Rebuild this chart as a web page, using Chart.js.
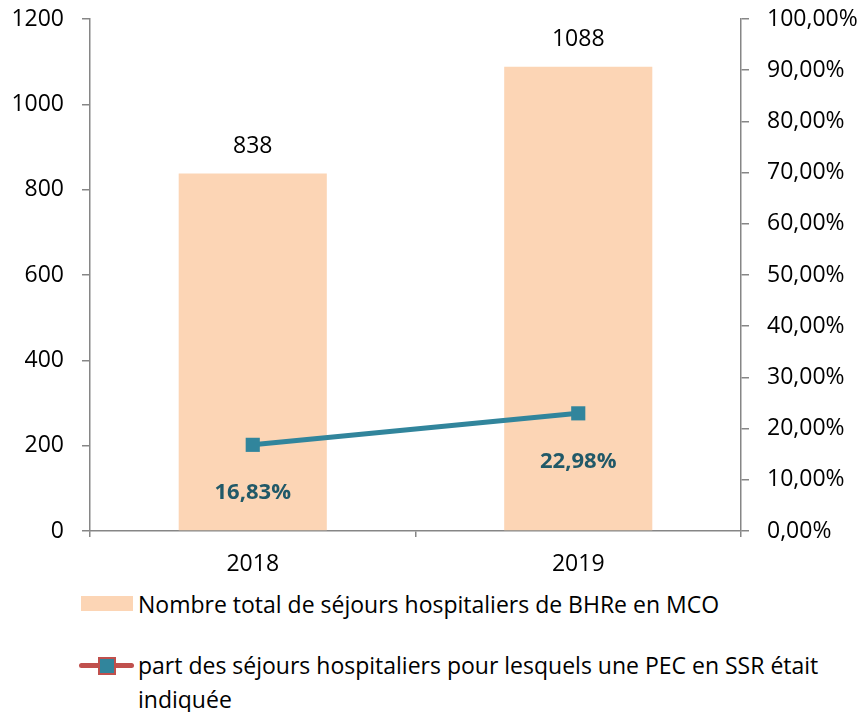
<!DOCTYPE html>
<html>
<head>
<meta charset="utf-8">
<script src="https://cdn.jsdelivr.net/npm/chart.js@4.4.1/dist/chart.umd.min.js"></script>
<style>
  body { margin: 0; background: #fff; font-family: "Open Sans", sans-serif; }
  #wrap { position: relative; width: 864px; height: 712px; }
  #chartBox { position: absolute; left: 0; top: 0; width: 864px; height: 578px; }
  .swatch-bar { position: absolute; left: 81px; width: 52px; height: 15px; background: #fcd5b5; }
  .swatch-line { position: absolute; left: 79px; width: 55px; height: 5px; background: #c0504d; border-radius: 3px; }
  .swatch-mark { position: absolute; width: 14px; height: 14px; background: #31859c; border: 2px solid #c0504d; }
  .legend-text { position: absolute; left: 138px; width: 700px; color: #000; font-size: 23px; line-height: 34px; }
</style>
</head>
<body>
<div id="wrap">
  <div id="chartBox"><canvas id="chart"></canvas></div>
  <div class="swatch-bar" style="top:596px"></div>
  <div class="legend-text" style="top:587px">Nombre total de séjours hospitaliers de BHRe en MCO</div>
  <div class="swatch-line" style="top:663px"></div>
  <div class="swatch-mark" style="left:98px; top:657px"></div>
  <div class="legend-text" style="top:648px">part des séjours hospitaliers pour lesquels une PEC en SSR était indiquée</div>
</div>
<script>
// Data
const years = ["2018", "2019"];
const sejoursTotal = [838, 1088];
const partSSR = [16.83, 22.98];

const FONT = "'Open Sans', sans-serif";
const axisGray = "#868686";

function pct(v) {
  return v.toFixed(2).replace(".", ",") + "%";
}

// draws the value labels (bars above, line below)
const valueLabels = {
  id: "valueLabels",
  afterDatasetsDraw(chart) {
    const c = chart.ctx;
    c.save();
    c.textAlign = "center";
    c.textBaseline = "middle";
    chart.data.datasets.forEach((ds, i) => {
      const meta = chart.getDatasetMeta(i);
      meta.data.forEach((el, j) => {
        if (ds.type === "bar") {
          c.font = "23px " + FONT;
          c.fillStyle = "#000";
          c.fillText(String(ds.data[j]), el.x, el.y - 27);
        } else {
          c.font = "bold 22px " + FONT;
          c.fillStyle = "#215968";
          c.fillText(pct(ds.data[j]), el.x, el.y + 48);
        }
      });
    });
    c.restore();
  }
};

// keep the plot area where the layout padding says
function noScalePad(scale) {
  scale.paddingTop = 0;
  scale.paddingBottom = 0;
}

const ctx = document.getElementById("chart").getContext("2d");
new Chart(ctx, {
  data: {
    labels: years,
    datasets: [
      {
        type: "line",
        label: "part des séjours hospitaliers pour lesquels une PEC en SSR était indiquée",
        data: partSSR,
        yAxisID: "y1",
        borderColor: "#31859c",
        backgroundColor: "#31859c",
        borderWidth: 5,
        pointStyle: "rect",
        pointRadius: 10,
        pointBorderWidth: 0,
        order: 0
      },
      {
        type: "bar",
        label: "Nombre total de séjours hospitaliers de BHRe en MCO",
        data: sejoursTotal,
        yAxisID: "y",
        backgroundColor: "#fcd5b5",
        barPercentage: 0.455,
        categoryPercentage: 1,
        order: 1
      }
    ]
  },
  options: {
    responsive: true,
    maintainAspectRatio: false,
    animation: false,
    layout: { padding: { top: 19, left: 0, right: 0, bottom: 0 } },
    plugins: { legend: { display: false }, tooltip: { enabled: false } },
    scales: {
      x: {
        offset: true,
        grid: { offset: true, drawOnChartArea: false, color: axisGray, tickLength: 6, lineWidth: 1.5 },
        border: { color: axisGray, width: 1.5 },
        ticks: { color: "#000", font: { family: FONT, size: 23 }, padding: 14 },
        afterFit(scale) { scale.height = 47; }
      },
      y: {
        position: "left",
        min: 0,
        max: 1200,
        ticks: { stepSize: 200, color: "#000", font: { family: FONT, size: 23 }, padding: 18, callback: v => String(v) },
        grid: { drawOnChartArea: false, color: axisGray, tickLength: 8, lineWidth: 1.5 },
        border: { color: axisGray, width: 1.5 },
        afterFit(scale) { scale.width = 90; noScalePad(scale); }
      },
      y1: {
        position: "right",
        min: 0,
        max: 100,
        ticks: {
          stepSize: 10,
          color: "#000",
          font: { family: FONT, size: 23 },
          padding: 18,
          callback: v => pct(v)
        },
        grid: { drawOnChartArea: false, color: axisGray, tickLength: 8, lineWidth: 1.5 },
        border: { color: axisGray, width: 1.5 },
        afterFit(scale) { scale.width = 123; noScalePad(scale); }
      }
    }
  },
  plugins: [valueLabels]
});
</script>
</body>
</html>
